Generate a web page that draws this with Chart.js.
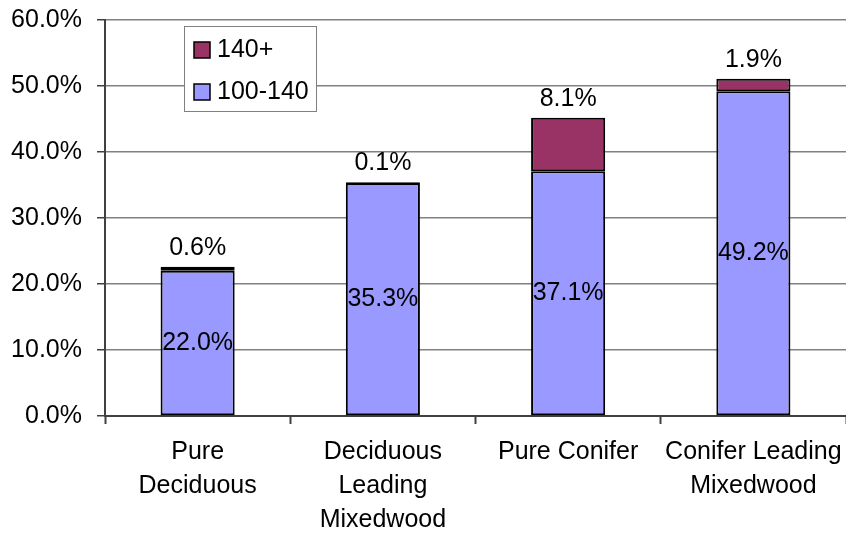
<!DOCTYPE html>
<html>
<head>
<meta charset="utf-8">
<script src="https://cdn.jsdelivr.net/npm/chart.js@4.4.1/dist/chart.umd.min.js"></script>
<style>
  html, body { margin: 0; padding: 0; background: #fff; }
  #wrap { width: 846px; height: 533px; }
</style>
</head>
<body>
<div id="wrap"><canvas id="myChart" width="846" height="533"></canvas></div>
<script>
// values, in percent
const categories = [
    ['Pure', 'Deciduous'],
    ['Deciduous', 'Leading', 'Mixedwood'],
    'Pure Conifer',
    ['Conifer Leading', 'Mixedwood']
];
const lowValues = [22.0, 35.3, 37.1, 49.2];   // 100-140
const highValues = [0.6, 0.1, 8.1, 1.9];      // 140+
const seriesNames = ['100-140', '140+'];
const yTicks = [0, 10, 20, 30, 40, 50, 60];

const FONT = 'Liberation Sans, Arial, sans-serif';
const FSIZE = 25;

// value labels: middle of the lower segment, above the stack for the top one
const valueLabels = {
    id: 'valueLabels',
    afterDatasetsDraw(chart) {
        const ctx = chart.ctx;
        ctx.save();
        ctx.font = FSIZE + 'px ' + FONT;
        ctx.fillStyle = '#000';
        ctx.textAlign = 'center';
        ctx.textBaseline = 'middle';
        chart.data.datasets.forEach((ds, di) => {
            const meta = chart.getDatasetMeta(di);
            meta.data.forEach((bar, i) => {
                const txt = ds.data[i].toFixed(1) + '%';
                if (di === 0) {
                    ctx.fillText(txt, bar.x, (bar.y + bar.base) / 2);
                } else {
                    ctx.fillText(txt, bar.x, bar.y - 19);
                }
            });
        });
        ctx.restore();
    }
};

// boxed legend inside the plot, top series first
const boxLegend = {
    id: 'boxLegend',
    afterDraw(chart) {
        const ctx = chart.ctx;
        const x = 184, y = 26, w = 132, h = 85;
        ctx.save();
        ctx.fillStyle = '#fff';
        ctx.fillRect(x, y, w, h);
        ctx.strokeStyle = '#808080';
        ctx.lineWidth = 1;
        ctx.strokeRect(x + 0.5, y + 0.5, w, h);
        ctx.font = FSIZE + 'px ' + FONT;
        ctx.textBaseline = 'middle';
        ctx.textAlign = 'left';
        const order = [1, 0];
        order.forEach((di, k) => {
            const ds = chart.data.datasets[di];
            const cy = y + 24 + k * 42;
            ctx.fillStyle = ds.backgroundColor;
            ctx.fillRect(x + 10, cy - 8, 16, 16);
            ctx.strokeStyle = '#000';
            ctx.lineWidth = 1.5;
            ctx.strokeRect(x + 10, cy - 8, 16, 16);
            ctx.fillStyle = '#000';
            ctx.fillText(ds.label, x + 33, cy);
        });
        ctx.restore();
    }
};

const ctx = document.getElementById('myChart').getContext('2d');
new Chart(ctx, {
    type: 'bar',
    data: {
        labels: categories,
        datasets: [{
            label: seriesNames[0],
            data: lowValues,
            backgroundColor: '#9999FF',
            borderColor: '#000',
            borderWidth: 2,
            borderSkipped: false,
            barPercentage: 0.4,
            categoryPercentage: 1
        }, {
            label: seriesNames[1],
            data: highValues,
            backgroundColor: '#993366',
            borderColor: '#000',
            borderWidth: 2,
            borderSkipped: false,
            barPercentage: 0.4,
            categoryPercentage: 1
        }]
    },
    options: {
        responsive: false,
        animation: false,
        layout: { padding: { top: 20, right: -2, left: 0, bottom: 0 } },
        scales: {
            x: {
                stacked: true,
                offset: true,
                grid: {
                    display: true,
                    offset: true,
                    drawOnChartArea: false,
                    tickLength: 8,
                    tickColor: '#404040',
                    tickWidth: 2
                },
                border: { color: '#404040', width: 2 },
                ticks: {
                    color: '#000',
                    font: { family: FONT, size: FSIZE, lineHeight: 1.36 },
                    padding: 11,
                    maxRotation: 0,
                    autoSkip: false
                },
                afterFit(axis) {
                    axis.height = 117;
                    axis.paddingLeft = 0;
                    axis.paddingRight = 0;
                }
            },
            y: {
                stacked: true,
                min: 0,
                max: 60,
                afterBuildTicks(axis) { axis.ticks = yTicks.map(v => ({ value: v })); },
                grid: {
                    color: '#808080',
                    lineWidth: 1.5,
                    tickLength: 8,
                    tickColor: '#404040'
                },
                border: { color: '#404040', width: 2 },
                ticks: {
                    color: '#000',
                    font: { family: FONT, size: FSIZE },
                    padding: 15,
                    callback: v => v.toFixed(1) + '%'
                },
                afterFit(axis) {
                    axis.width = 105;
                    axis.paddingTop = 0;
                    axis.paddingBottom = 0;
                }
            }
        },
        plugins: {
            legend: { display: false },
            tooltip: { enabled: false }
        }
    },
    plugins: [valueLabels, boxLegend]
});
</script>
</body>
</html>
